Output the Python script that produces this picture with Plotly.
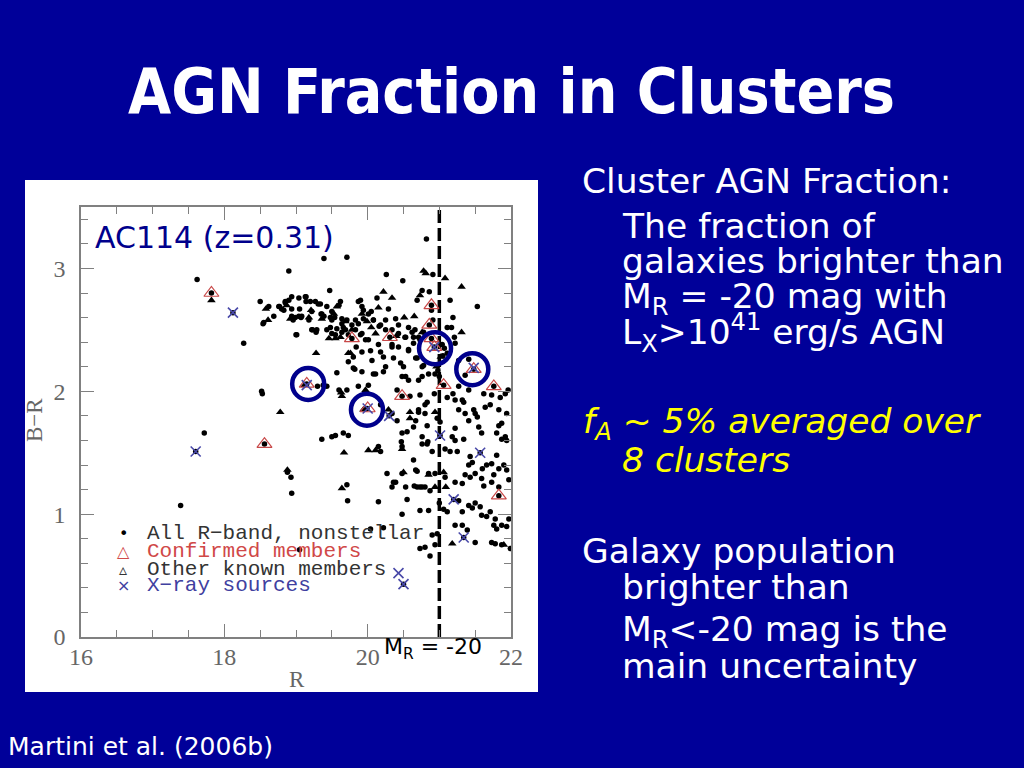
import plotly.graph_objects as go

# ---------------- data ----------------
R_RANGE = [16, 22]
BR_RANGE = [0, 3.5]
X_TICKS = [16, 18, 20, 22]
Y_TICKS = [0, 1, 2, 3]
MR_LIMIT_R = 21.0          # apparent R of M_R = -20 at z=0.31

# All R-band, nonstellar (R, B-R)
all_rband = [
    (17.62, 2.91), (17.82, 2.80), (18.12, 2.64), (18.27, 2.39), (17.72, 1.66), (17.60, 1.51),
    (17.39, 1.07), (18.56, 1.57), (18.52, 2.00), (18.53, 1.98), (18.90, 2.98), (18.88, 1.34),
    (18.93, 1.30), (18.94, 1.17), (19.05, 0.71), (19.39, 3.08), (19.71, 3.09), (19.47, 2.82),
    (19.00, 2.46), (19.36, 1.61), (19.50, 1.63), (19.55, 1.64), (19.66, 1.66), (19.73, 1.64),
    (19.71, 1.24), (19.72, 1.11), (19.60, 2.01), (19.71, 2.01), (19.80, 2.19), (19.57, 2.15),
    (19.92, 2.16), (20.15, 1.10), (20.50, 0.43), (20.73, 0.72), (20.80, 0.73), (20.87, 0.66),
    (20.94, 0.75), (20.90, 0.83), (20.97, 0.84), (20.04, 0.88), (20.22, 0.89), (19.15, 2.06),
    (19.30, 2.04), (19.38, 2.05), (19.43, 2.04), (19.99, 1.86), (20.30, 1.80),
    (18.50, 2.73), (18.54, 2.55), (18.77, 2.69), (18.85, 2.73), (18.90, 2.74), (18.83, 2.66),
    (18.99, 2.60), (19.05, 2.67), (19.07, 2.60), (19.14, 2.77), (19.14, 2.73), (19.22, 2.65),
    (19.27, 2.73), (19.34, 2.71), (19.35, 2.63), (19.39, 2.61), (19.43, 2.69), (19.48, 2.60),
    (19.50, 2.65), (19.54, 2.60), (19.60, 2.70), (19.64, 2.59), (19.66, 2.52), (19.62, 2.73),
    (19.71, 2.58), (19.78, 2.54), (19.83, 2.58), (19.87, 2.55), (19.01, 2.46), (19.22, 2.50),
    (19.29, 2.50), (19.48, 2.52), (19.50, 2.47), (19.55, 2.46), (19.64, 2.48), (18.94, 2.61),
    (18.96, 2.58), (19.78, 2.43), (18.62, 2.69), (18.76, 2.69), (18.80, 2.67), (18.85, 2.72),
    (18.94, 2.67), (19.04, 2.61), (19.08, 2.61), (19.18, 2.58), (19.31, 2.71), (19.36, 2.63),
    (19.43, 2.50), (19.50, 2.58), (19.57, 2.51), (19.64, 2.55), (19.69, 2.50), (19.73, 2.46),
    (19.84, 2.36), (19.90, 2.46), (19.80, 2.28), (19.92, 2.32), (19.97, 2.42), (18.69, 2.61),
    (18.55, 2.56), (19.23, 2.50), (19.28, 2.48), (18.94, 2.77), (19.04, 2.76), (19.13, 2.77),
    (19.20, 2.73), (19.73, 2.24), (19.82, 2.18),
    (19.90, 2.74), (20.13, 2.76), (20.29, 2.67), (20.05, 2.65), (19.94, 2.59), (20.08, 2.58),
    (20.18, 2.54), (20.25, 2.50), (20.39, 2.59), (20.43, 2.54), (20.57, 2.52), (20.66, 2.50),
    (20.52, 2.44), (20.64, 2.44), (20.73, 2.42), (20.43, 2.36), (20.34, 2.38), (20.15, 2.38),
    (20.01, 2.42), (19.92, 2.47), (19.83, 2.50), (20.04, 2.33), (20.22, 2.28), (20.36, 2.27),
    (20.57, 2.33), (20.69, 2.27), (20.50, 2.20), (20.78, 2.21), (20.08, 2.14), (20.22, 2.16),
    (20.48, 2.12), (20.57, 2.09), (20.76, 2.12), (20.41, 2.01), (20.59, 1.96), (20.73, 1.97),
    (20.83, 1.91), (20.93, 1.98), (20.18, 1.89), (20.01, 2.05), (19.87, 2.04), (20.71, 1.83),
    (20.80, 1.89), (20.31, 2.44), (20.48, 1.96),
    (20.82, 3.24), (20.26, 2.95), (20.49, 2.90), (20.91, 2.95), (20.76, 2.82), (20.86, 2.81),
    (20.69, 2.74), (20.89, 2.66), (20.91, 2.58), (20.89, 2.70), (20.86, 2.54), (20.89, 2.43),
    (19.87, 2.73), (19.92, 2.69), (19.94, 2.66), (20.01, 2.63), (20.08, 2.58), (20.16, 2.53),
    (20.25, 2.58), (20.34, 2.50), (20.43, 2.47), (20.53, 2.44), (20.62, 2.48), (20.71, 2.44),
    (20.78, 2.48), (20.64, 2.39), (20.57, 2.34), (20.34, 2.36), (20.18, 2.32), (20.06, 2.25),
    (20.25, 2.20), (20.46, 2.23), (20.67, 2.27), (20.76, 2.20), (20.11, 2.14), (20.53, 2.12),
    (20.71, 2.09), (20.85, 2.14),
    (21.53, 2.69), (21.15, 2.74), (21.19, 2.60), (21.21, 2.44), (21.17, 2.52), (21.04, 2.38),
    (21.07, 2.35), (21.05, 2.29), (20.98, 2.17), (20.94, 2.14), (21.00, 2.12), (21.06, 2.05),
    (21.19, 1.98), (21.32, 1.93), (21.34, 1.91), (21.36, 2.13), (21.41, 2.26), (21.48, 2.18),
    (21.62, 1.98), (21.73, 1.97), (21.85, 1.95), (21.96, 2.01), (21.71, 1.89), (21.64, 1.87),
    (21.48, 1.85), (21.50, 1.82), (21.76, 2.04), (21.11, 2.52), (21.22, 2.39), (21.27, 2.25),
    (21.11, 2.31), (20.93, 2.36),
    (21.11, 1.95), (21.22, 1.93), (21.27, 1.85), (21.36, 1.82), (21.41, 1.76), (21.53, 1.79),
    (21.55, 1.71), (21.83, 1.85), (21.87, 1.74), (21.94, 1.82), (21.92, 1.98), (21.80, 1.66),
    (21.92, 1.63), (21.27, 2.04), (21.41, 2.01),
    (20.55, 1.67), (20.64, 1.71), (20.83, 1.72), (20.97, 1.78), (21.01, 1.75), (21.18, 1.63),
    (21.22, 1.60), (21.34, 1.61), (21.22, 1.70), (21.59, 1.66), (21.83, 1.72), (21.87, 1.61),
    (21.94, 1.60), (20.18, 1.51), (20.15, 1.55), (20.47, 1.59), (20.76, 1.57), (20.84, 1.59),
    (20.90, 1.51), (21.08, 1.53), (21.15, 1.51), (21.25, 1.51), (20.64, 1.44), (21.43, 1.47),
    (21.46, 1.42), (21.41, 1.40), (21.60, 1.37), (21.66, 1.40), (21.73, 1.41), (21.80, 1.48),
    (21.83, 1.37), (21.90, 1.40), (21.94, 1.36), (21.97, 1.28), (20.69, 1.35), (20.94, 1.33),
    (21.08, 1.30), (20.34, 1.22), (20.39, 1.26), (20.65, 1.23), (20.69, 1.22), (20.73, 1.22),
    (20.80, 1.22), (21.22, 1.26), (21.32, 1.25), (21.36, 1.32), (21.43, 1.30), (21.50, 1.33),
    (21.59, 1.29), (21.62, 1.23), (21.73, 1.26), (21.76, 1.32), (21.83, 1.22), (20.55, 1.12),
    (21.20, 1.12), (21.83, 1.15), (21.00, 1.09), (21.06, 1.04), (21.11, 1.02), (21.27, 1.11),
    (21.32, 1.02), (21.41, 1.07), (21.46, 1.05), (21.50, 1.09), (21.57, 1.06), (21.59, 0.99),
    (21.66, 0.98), (21.71, 1.02), (21.78, 0.96), (21.87, 0.91), (21.94, 0.90), (21.97, 0.96),
    (21.76, 0.91), (21.80, 0.88), (20.73, 1.03), (21.22, 0.91), (21.32, 0.91), (21.39, 0.87),
    (21.34, 0.81), (21.50, 0.77), (21.73, 0.77), (21.78, 0.76), (21.87, 0.75), (21.99, 0.72),
    (20.34, 1.82), (20.41, 1.76), (20.48, 1.66), (20.67, 1.76), (20.71, 1.85), (20.80, 1.82),
    (20.76, 1.63), (20.83, 1.57), (20.48, 1.55), (20.48, 1.33), (20.53, 1.22), (20.67, 1.36),
    (20.85, 1.33), (20.76, 1.22), (20.87, 1.19), (20.85, 1.03), (20.48, 1.00), (20.27, 1.33),
    (20.36, 1.26), (21.01, 1.64), (21.57, 1.50),
]

# Other known members (small filled triangles)
other_members = [
    (17.82, 2.74), (18.78, 1.83), (19.28, 2.31), (18.58, 2.67), (18.61, 2.58), (18.87, 2.70),
    (18.92, 2.59), (19.18, 2.60), (19.21, 2.66), (19.36, 2.59), (19.53, 2.63), (19.57, 2.69),
    (19.69, 2.57), (19.78, 2.50), (19.46, 2.43), (19.55, 2.43), (19.73, 2.31), (19.62, 2.44),
    (19.76, 2.31), (19.63, 1.99), (19.64, 1.96), (19.67, 1.50), (19.64, 1.21), (18.88, 1.36),
    (20.22, 2.81), (20.34, 2.76), (20.15, 2.68), (19.99, 2.57), (19.92, 2.63), (20.51, 2.60),
    (20.65, 2.61), (20.11, 2.47), (20.76, 2.48), (20.29, 1.85), (20.59, 1.83), (19.97, 2.01),
    (20.94, 1.83), (20.78, 2.98), (20.81, 2.96), (21.08, 2.92), (21.31, 2.85), (21.31, 2.48),
    (20.59, 1.78), (20.01, 1.52), (20.11, 1.52), (20.48, 1.53), (20.50, 1.34), (20.85, 1.32),
    (21.06, 1.34), (21.09, 1.22), (20.94, 1.22), (21.18, 0.76), (21.90, 0.75), (20.96, 2.20),
    (21.02, 2.28), (20.73, 2.78), (19.94, 1.85), (19.12, 2.05), (20.40, 2.45), (20.05, 2.52),
]

# Confirmed members (open red triangles)
confirmed = [
    (17.82, 2.80), (18.56, 1.57), (19.15, 2.06), (19.78, 2.43), (20.00, 1.86), (20.31, 2.44),
    (20.48, 1.96), (20.89, 2.70), (20.86, 2.54), (20.89, 2.43), (20.93, 2.36), (21.06, 2.05),
    (21.48, 2.18), (21.76, 2.04), (21.83, 1.15),
]

# X-ray sources (blue crosses)
xray = [
    (18.12, 2.64), (17.60, 1.51), (19.15, 2.05), (20.00, 1.86), (20.30, 1.80), (20.93, 2.36),
    (21.48, 2.19), (21.01, 1.64), (21.57, 1.50), (21.20, 1.12), (21.34, 0.81), (20.50, 0.43),
    (20.43, 0.52),
]

# X-ray AGN in confirmed members brighter than M_R = -20 (big blue circles)
highlighted_agn = [(19.17, 2.06), (19.99, 1.85), (20.94, 2.35), (21.46, 2.18)]

legend_entries = [
    ("\u2022", "#000000", "All R\u2212band, nonstellar", "#333333"),
    ("\u25b3", "#d04848", "Confirmed members", "#d04848"),
    ("\u25b5", "#333333", "Other known members", "#333333"),
    ("\u00d7", "#4040a0", "X\u2212ray sources", "#4040a0"),
]

# ---------------- figure ----------------
BG = "#000099"
W, H = 1024, 768
ML, MT, PW, PH = 81, 207, 430, 430


def px2paper(px, py):
    return (px - ML) / PW, (MT + PH - py) / PH


def xs(pts):
    return [p[0] for p in pts]


def ys(pts):
    return [p[1] for p in pts]


fig = go.Figure()

fig.add_trace(go.Scatter(
    x=[MR_LIMIT_R, MR_LIMIT_R], y=BR_RANGE, mode="lines",
    line=dict(color="black", width=3.5, dash="13px,5px"), hoverinfo="skip"))

fig.add_trace(go.Scatter(x=xs(all_rband), y=ys(all_rband), mode="markers",
                         marker=dict(symbol="circle", size=5.5, color="black")))
fig.add_trace(go.Scatter(x=xs(other_members), y=ys(other_members), mode="markers",
                         marker=dict(symbol="triangle-up", size=7.5, color="black")))
fig.add_trace(go.Scatter(x=xs(confirmed), y=ys(confirmed), mode="markers",
                         marker=dict(symbol="triangle-up-open", size=13, color="#c84848",
                                     line=dict(width=1.2))))
fig.add_trace(go.Scatter(x=xs(xray), y=ys(xray), mode="markers",
                         marker=dict(symbol="x-thin-open", size=10, color="#4848a8",
                                     line=dict(width=1.6))))
fig.add_trace(go.Scatter(x=xs(highlighted_agn), y=ys(highlighted_agn), mode="markers",
                         marker=dict(symbol="circle-open", size=32, color="#00008c",
                                     line=dict(width=4.5))))

axis_common = dict(
    showgrid=False, zeroline=False, showline=True, linecolor="#808080", linewidth=1.5,
    mirror="ticks", ticks="inside", tickcolor="#808080", tickwidth=1.2,
    tickfont=dict(family="Liberation Serif", size=24, color="#666666"),
)
fig.update_xaxes(range=R_RANGE, tickvals=X_TICKS, ticklen=13, ticklabelstandoff=-3,
                 minor=dict(dtick=0.5, ticks="inside", ticklen=7, tickcolor="#808080", tickwidth=1.2),
                 **axis_common)
fig.update_yaxes(range=BR_RANGE, tickvals=Y_TICKS, ticklen=13, ticklabelstandoff=9,
                 minor=dict(dtick=0.2, ticks="inside", ticklen=7, tickcolor="#808080", tickwidth=1.2),
                 **axis_common)

annotations = []


def add_text(text, px, py, size, color="white", family="DejaVu Sans", xanchor="left",
             yanchor="middle", angle=0):
    x, y = px2paper(px, py)
    annotations.append(dict(text=text, x=x, y=y, xref="paper", yref="paper", showarrow=False,
                            xanchor=xanchor, yanchor=yanchor, textangle=angle,
                            font=dict(family=family, size=size, color=color)))


# slide title
add_text("<b>AGN Fraction in Clusters</b>", 511, 92, 62, family="DejaVu Sans Condensed, DejaVu Sans",
         xanchor="center")

# right-hand bullet text (text, left px, baseline px, color)
body = [
    ("Cluster AGN Fraction:", 580, 193, "white"),
    ("The fraction of", 620, 238, "white"),
    ("galaxies brighter than", 620, 273, "white"),
    ("M<sub>R</sub> = -20 mag with", 620, 310, "white"),
    ("L<sub>X</sub>>10<sup>41</sup> erg/s AGN", 620, 345, "white"),
    ("<i>f<sub>A</sub> ~ 5% averaged over</i>", 581, 435, "#ffff00"),
    ("<i>8 clusters</i>", 620, 472, "#ffff00"),
    ("Galaxy population", 580, 563, "white"),
    ("brighter than", 620, 599, "white"),
    ("M<sub>R</sub><-20 mag is the", 620, 643, "white"),
    ("main uncertainty", 620, 678, "white"),
]
for text, px, base, col in body:
    add_text(text, px, base - 12, 34.5, color=col)

add_text("Martini et al. (2006b)", 6, 746, 25)

# plot inner labels
add_text("AC114 (z=0.31)", 93, 237, 30, color="#00008c")
add_text("M<sub>R</sub> = -20", 382, 648, 22, color="black")

# axis titles
add_text("R", 297, 679, 23, color="#666666", family="Liberation Serif", xanchor="center")
add_text("B\u2212R", 34, 420, 23, color="#666666", family="Liberation Serif", xanchor="center",
         angle=-90)

# legend drawn inside the plot
leg_y = [533, 551.5, 569.5, 585]
for (sym, scol, label, lcol), py in zip(legend_entries, leg_y):
    add_text(sym, 123, py, 16, color=scol, family="DejaVu Sans", xanchor="center")
    add_text(label, 145, py, 21, color=lcol, family="Liberation Mono")

# white panel behind the chart
x0, y1 = px2paper(25, 180)
x1, y0 = px2paper(538, 692)
fig.add_shape(type="rect", xref="paper", yref="paper", x0=x0, x1=x1, y0=y0, y1=y1,
              fillcolor="white", line=dict(width=0), layer="below")

fig.update_layout(
    width=W, height=H, autosize=False,
    margin=dict(l=ML, r=W - ML - PW, t=MT, b=H - MT - PH, pad=0),
    paper_bgcolor=BG, plot_bgcolor="white", showlegend=False,
    annotations=annotations,
)

fig.write_html("out.html",
               config={"displayModeBar": False},
               post_script="document.body.style.margin='0';document.body.style.overflow='hidden';"
                           "document.body.style.background='" + BG + "';")
